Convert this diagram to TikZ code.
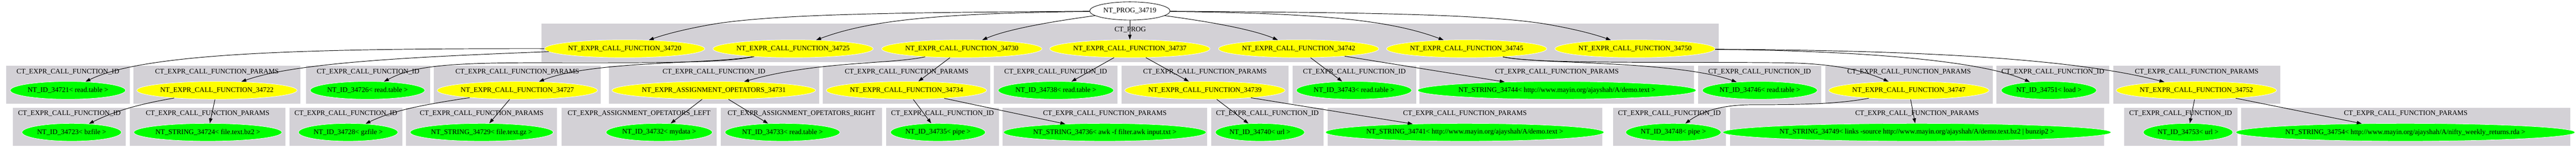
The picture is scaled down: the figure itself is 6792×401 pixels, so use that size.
\documentclass[tikz,border=0pt]{standalone}
\usepackage{fontspec}
\setmainfont{Liberation Serif}
\usetikzlibrary{shapes.geometric,arrows.meta}
\definecolor{clgray}{RGB}{211,209,214}
\definecolor{gvyellow}{RGB}{255,255,0}
\definecolor{gvgreen}{RGB}{0,255,0}
\newcommand\gvfont{\fontsize{18.6pt}{22pt}\selectfont}
\newcommand\gvclus[6]{\fill[clus] (#2,#4) rectangle (#3,#5); \node[clab] (#1) at ({(#2+#3)/2},#4+15.5) {#6};}
\newcommand\gvnode[6]{\node[#1, minimum width=#5pt] (#2) at (#3,#4) {#6};}
\newcommand\CID{CT\_EXPR\_CALL\_FUNCTION\_ID}
\newcommand\CPA{CT\_EXPR\_CALL\_FUNCTION\_PARAMS}
\tikzset{
  clus/.style={fill=clgray},
  clab/.style={font=\gvfont, inner sep=0pt},
  gv/.style={ellipse, draw=white, line width=1pt, minimum height=47pt, inner sep=0pt, font=\gvfont},
  yel/.style={gv, fill=gvyellow},
  grn/.style={gv, fill=gvgreen},
  conn/.style={-{Triangle[length=13pt,width=9pt]}, line width=1.3pt, black}
}
\begin{document}
\begin{tikzpicture}[x=1pt,y=-1pt]
\fill[white] (0,0) rectangle (6792,401);
\useasboundingbox (0,0) rectangle (6792,401);
% clusters
\gvclus{cprog}{1428}{4532}{63}{164}{CT\_PROG}
\gvclus{c1}{16}{342}{174}{275}{\CID}
\gvclus{c2}{352}{792}{174}{275}{\CPA}
\gvclus{c3}{807}{1134}{174}{275}{\CID}
\gvclus{c4}{1144}{1584}{174}{275}{\CPA}
\gvclus{c5}{1605}{2160}{174}{275}{\CID}
\gvclus{c6}{2170}{2611}{174}{275}{\CPA}
\gvclus{c7}{2620}{2947}{174}{275}{\CID}
\gvclus{c8}{2957}{3397}{174}{275}{\CPA}
\gvclus{c9}{3408}{3734}{174}{275}{\CID}
\gvclus{c10}{3743}{4467}{174}{275}{\CPA}
\gvclus{c11}{4477}{4802}{174}{275}{\CID}
\gvclus{c12}{4813}{5254}{174}{275}{\CPA}
\gvclus{c13}{5264}{5561}{174}{275}{\CID}
\gvclus{c14}{5572}{6012}{174}{275}{\CPA}
\gvclus{d1}{34}{332}{285}{386}{\CID}
\gvclus{d2}{342}{753}{285}{386}{\CPA}
\gvclus{d3}{763}{1061}{285}{386}{\CID}
\gvclus{d4}{1071}{1469}{285}{386}{\CPA}
\gvclus{d5}{1480}{1890}{285}{386}{CT\_EXPR\_ASSIGNMENT\_OPETATORS\_LEFT}
\gvclus{d6}{1901}{2325}{285}{386}{CT\_EXPR\_ASSIGNMENT\_OPETATORS\_RIGHT}
\gvclus{d7}{2336}{2634}{285}{386}{\CID}
\gvclus{d8}{2643}{3183}{285}{386}{\CPA}
\gvclus{d9}{3193}{3490}{285}{386}{\CID}
\gvclus{d10}{3501}{4224}{285}{386}{\CPA}
\gvclus{d11}{4253}{4550}{285}{386}{\CID}
\gvclus{d12}{4561}{5548}{285}{386}{\CPA}
\gvclus{d13}{5600}{5899}{285}{386}{\CID}
\gvclus{d14}{5909}{6777}{285}{386}{\CPA}
% root
\node[ellipse, draw=black, fill=white, line width=1.2pt, minimum width=212pt, minimum height=48pt, inner sep=0pt, font=\gvfont] (r) at (2979,29) {NT\_PROG\_34719};
% top nodes
\gvnode{yel}{n34720}{1647}{129}{418}{NT\_EXPR\_CALL\_FUNCTION\_34720}
\gvnode{yel}{n34725}{2091}{129}{418}{NT\_EXPR\_CALL\_FUNCTION\_34725}
\gvnode{yel}{n34730}{2536}{129}{418}{NT\_EXPR\_CALL\_FUNCTION\_34730}
\gvnode{yel}{n34737}{2979}{129}{418}{NT\_EXPR\_CALL\_FUNCTION\_34737}
\gvnode{yel}{n34742}{3424}{129}{418}{NT\_EXPR\_CALL\_FUNCTION\_34742}
\gvnode{yel}{n34745}{3867}{129}{418}{NT\_EXPR\_CALL\_FUNCTION\_34745}
\gvnode{yel}{n34750}{4311}{129}{418}{NT\_EXPR\_CALL\_FUNCTION\_34750}
% row 1
\gvnode{grn}{n34721}{179}{239}{304}{NT\_ID\_34721< read.table >}
\gvnode{yel}{n34722}{572}{239}{420}{NT\_EXPR\_CALL\_FUNCTION\_34722}
\gvnode{grn}{n34726}{969}{239}{302}{NT\_ID\_34726< read.table >}
\gvnode{yel}{n34727}{1364}{239}{418}{NT\_EXPR\_CALL\_FUNCTION\_34727}
\gvnode{yel}{n34731}{1882}{239}{534}{NT\_EXPR\_ASSIGNMENT\_OPETATORS\_34731}
\gvnode{yel}{n34734}{2390}{239}{419}{NT\_EXPR\_CALL\_FUNCTION\_34734}
\gvnode{grn}{n34738}{2784}{239}{304}{NT\_ID\_34738< read.table >}
\gvnode{yel}{n34739}{3177}{239}{418}{NT\_EXPR\_CALL\_FUNCTION\_34739}
\gvnode{grn}{n34743}{3570}{239}{304}{NT\_ID\_34743< read.table >}
\gvnode{grn}{n34744}{4105}{239}{699}{NT\_STRING\_34744< http://www.mayin.org/ajayshah/A/demo.text >}
\gvnode{grn}{n34746}{4640}{239}{303}{NT\_ID\_34746< read.table >}
\gvnode{yel}{n34747}{5033}{239}{418}{NT\_EXPR\_CALL\_FUNCTION\_34747}
\gvnode{grn}{n34751}{5402}{239}{251}{NT\_ID\_34751< load >}
\gvnode{yel}{n34752}{5791}{239}{418}{NT\_EXPR\_CALL\_FUNCTION\_34752}
% row 2
\gvnode{grn}{n34723}{189}{350}{262}{NT\_ID\_34723< bzfile >}
\gvnode{grn}{n34724}{548}{350}{388}{NT\_STRING\_34724< file.text.bz2 >}
\gvnode{grn}{n34728}{918}{350}{262}{NT\_ID\_34728< gzfile >}
\gvnode{grn}{n34729}{1270}{350}{375}{NT\_STRING\_34729< file.text.gz >}
\gvnode{grn}{n34732}{1738}{350}{280}{NT\_ID\_34732< mydata >}
\gvnode{grn}{n34733}{2063}{350}{303}{NT\_ID\_34733< read.table >}
\gvnode{grn}{n34735}{2473}{350}{250}{NT\_ID\_34735< pipe >}
\gvnode{grn}{n34736}{2913}{350}{516}{NT\_STRING\_34736< awk -f filter.awk input.txt >}
\gvnode{grn}{n34740}{3322}{350}{235}{NT\_ID\_34740< url >}
\gvnode{grn}{n34741}{3862}{350}{699}{NT\_STRING\_34741< http://www.mayin.org/ajayshah/A/demo.text >}
\gvnode{grn}{n34748}{4412}{350}{251}{NT\_ID\_34748< pipe >}
\gvnode{grn}{n34749}{5054}{350}{964}{NT\_STRING\_34749< links -source http://www.mayin.org/ajayshah/A/demo.text.bz2 | bunzip2 >}
\gvnode{grn}{n34753}{5769}{350}{236}{NT\_ID\_34753< url >}
\gvnode{grn}{n34754}{6342}{350}{843}{NT\_STRING\_34754< http://www.mayin.org/ajayshah/A/nifty\_weekly\_returns.rda >}
% root edges
\draw[conn] (r) .. controls (2400,33) and (2050,36) .. (1880,64) .. controls (1800,78) and (1750,92) .. (n34720);
\draw[conn] (r) .. controls (2500,35) and (2300,50) .. (n34725);
\draw[conn] (r) .. controls (2750,60) and (2650,80) .. (n34730);
\draw[conn] (r) -- (n34737);
\draw[conn] (r) .. controls (3208,60) and (3308,80) .. (n34742);
\draw[conn] (r) .. controls (3458,35) and (3658,50) .. (n34745);
\draw[conn] (r) .. controls (3558,33) and (3908,36) .. (4078,64) .. controls (4158,78) and (4208,92) .. (n34750);
% top to row 1
\draw[conn] (n34720) .. controls (800,128) and (380,140) .. (n34721);
\draw[conn] (n34720) .. controls (1100,150) and (780,165) .. (n34722);
\draw[conn] (n34725) .. controls (1900,168) and (1700,166) .. (1400,166) .. controls (1150,166) and (1080,180) .. (n34726);
\draw[conn] (n34725) .. controls (1880,170) and (1560,160) .. (n34727);
\draw[conn] (n34730) .. controls (2350,170) and (2150,162) .. (n34731);
\draw[conn] (n34730) -- (n34734);
\draw[conn] (n34737) -- (n34738);
\draw[conn] (n34737) -- (n34739);
\draw[conn] (n34742) -- (n34743);
\draw[conn] (n34742) -- (n34744);
\draw[conn] (n34745) .. controls (4050,170) and (4420,160) .. (n34746);
\draw[conn] (n34745) .. controls (4050,170) and (4400,163) .. (4700,166) .. controls (4850,168) and (4920,190) .. (n34747);
\draw[conn] (n34750) .. controls (4800,133) and (5200,150) .. (n34751);
\draw[conn] (n34750) .. controls (5000,133) and (5450,150) .. (n34752);
% row 1 to row 2
\draw[conn] (n34722) .. controls (400,270) and (320,285) .. (n34723);
\draw[conn] (n34722) -- (n34724);
\draw[conn] (n34727) .. controls (1130,275) and (1040,290) .. (n34728);
\draw[conn] (n34727) -- (n34729);
\draw[conn] (n34731) -- (n34732);
\draw[conn] (n34731) -- (n34733);
\draw[conn] (n34734) -- (n34735);
\draw[conn] (n34734) -- (n34736);
\draw[conn] (n34739) -- (n34740);
\draw[conn] (n34739) -- (n34741);
\draw[conn] (n34747) .. controls (4850,275) and (4750,277) .. (4620,277) .. controls (4530,277) and (4480,300) .. (n34748);
\draw[conn] (n34747) -- (n34749);
\draw[conn] (n34752) -- (n34753);
\draw[conn] (n34752) -- (n34754);
\end{tikzpicture}
\end{document}
